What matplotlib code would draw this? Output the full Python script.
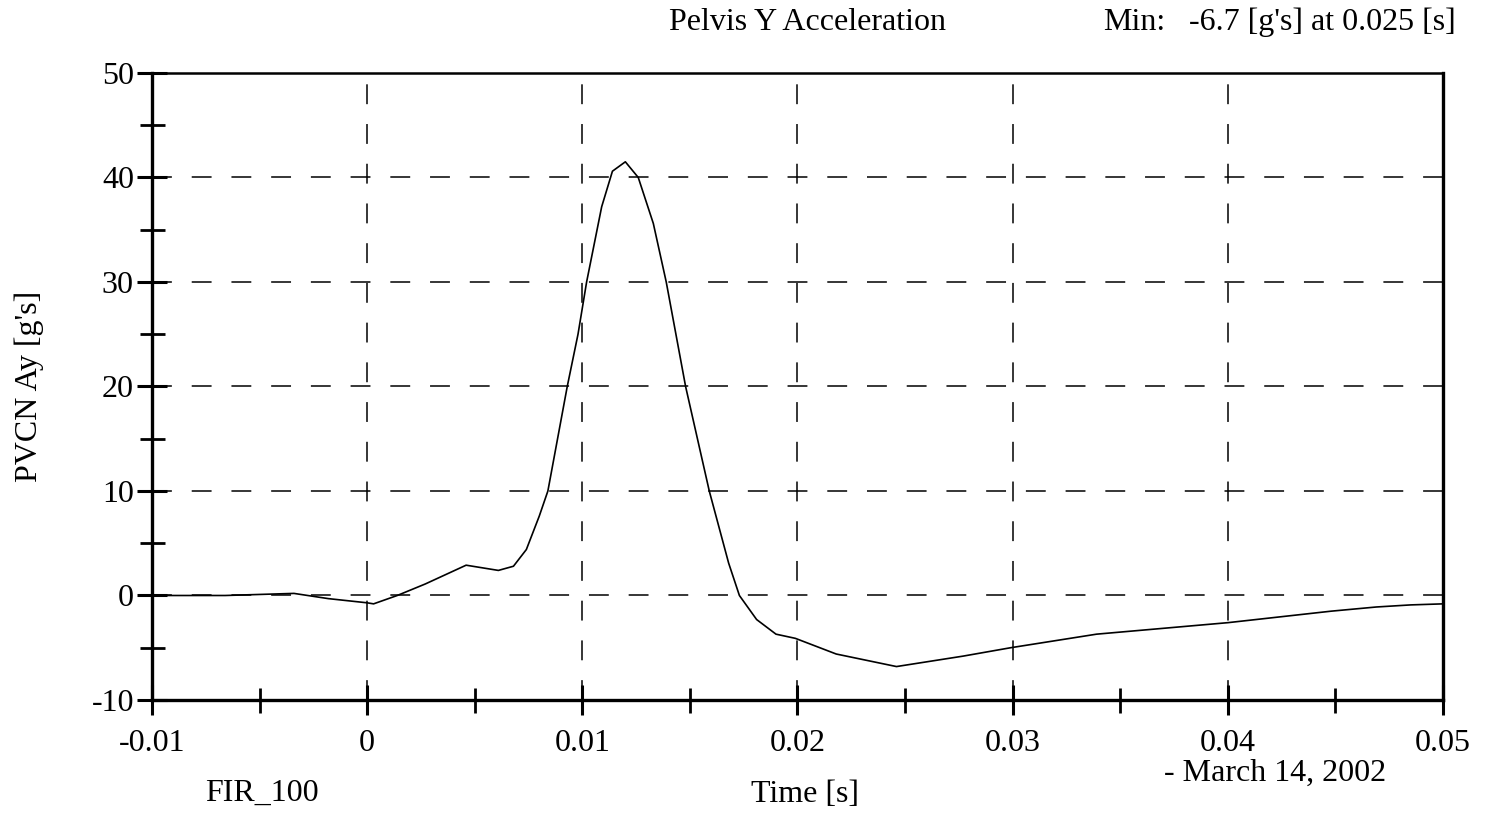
import numpy as np
from matplotlib import pyplot as plt
from matplotlib.ticker import MultipleLocator

plt.rcParams['font.family'] = ['Liberation Serif', 'DejaVu Serif']

# pelvis Y acceleration trace
time_s = [-0.0100, -0.0066, -0.0034, -0.0018, 0.0, 0.0003, 0.0014, 0.0027,
          0.0046, 0.0061, 0.0068, 0.0074, 0.0080, 0.0084, 0.0093, 0.0098,
          0.0102, 0.0109, 0.0114, 0.0120, 0.0126, 0.0133, 0.0139, 0.0148,
          0.0159, 0.0168, 0.0173, 0.0181, 0.0190, 0.0199, 0.0218, 0.0246,
          0.0277, 0.0299, 0.0339, 0.0400, 0.0448, 0.0469, 0.0485, 0.0500]
accel_g = [0.0, 0.0, 0.2, -0.3, -0.7, -0.8, 0.0, 1.1,
           2.9, 2.4, 2.8, 4.4, 7.6, 10.0, 20.0, 25.0,
           30.0, 37.2, 40.6, 41.5, 40.0, 35.6, 30.0, 20.0,
           10.0, 3.1, 0.0, -2.3, -3.7, -4.1, -5.6, -6.8,
           -5.8, -5.0, -3.7, -2.6, -1.5, -1.1, -0.9, -0.8]

x_ticks = [-0.01, 0.0, 0.01, 0.02, 0.03, 0.04, 0.05]
x_labels = ['-0.01', '0', '0.01', '0.02', '0.03', '0.04', '0.05']
y_ticks = [-10, 0, 10, 20, 30, 40, 50]
y_labels = ['-10', '0', '10', '20', '30', '40', '50']

fig = plt.figure(figsize=(14.94, 8.19), dpi=100)
ax = fig.add_axes([0.1017, 0.1453, 0.8642, 0.7656])

# dashed grid on interior major ticks
for xv in x_ticks[1:-1]:
    ax.axvline(xv, color='black', lw=1.1, ls=(0, (13, 13)), zorder=1)
for yv in y_ticks[1:-1]:
    ax.axhline(yv, color='black', lw=1.1, ls=(0, (13, 13)), zorder=1)

ax.plot(time_s, accel_g, color='black', lw=1.2, zorder=3)

ax.set_xlim(-0.01, 0.05)
ax.set_ylim(-10, 50)
ax.set_xticks(x_ticks)
ax.set_xticklabels(x_labels)
ax.set_yticks(y_ticks)
ax.set_yticklabels(y_labels)
ax.xaxis.set_minor_locator(MultipleLocator(0.005))
ax.yaxis.set_minor_locator(MultipleLocator(5))

ax.tick_params(which='major', direction='inout', length=22, width=2.2,
               labelsize=23, color='black')
ax.tick_params(which='minor', direction='inout', length=18, width=2.0)
ax.tick_params(axis='x', which='major', pad=10)
ax.tick_params(axis='y', which='major', pad=2)

for side in ['left', 'bottom', 'right']:
    ax.spines[side].set_linewidth(2.4)
ax.spines['top'].set_linewidth(1.8)

ax.set_ylabel("PVCN Ay [g's]", fontsize=23, labelpad=34)

fig.text(807 / 1494, 1 - 22 / 819, 'Pelvis Y Acceleration', fontsize=23,
         ha='center', va='center')
fig.text(1103 / 1494, 1 - 22 / 819, 'Min:', fontsize=23, ha='left', va='center')
fig.text(1456 / 1494, 1 - 22 / 819, "-6.7 [g's] at 0.025 [s]", fontsize=23,
         ha='right', va='center')
fig.text(262 / 1494, 1 - 793 / 819, 'FIR_100', fontsize=23, ha='center', va='center')
fig.text(805 / 1494, 1 - 795 / 819, 'Time [s]', fontsize=23, ha='center', va='center')
fig.text(1275 / 1494, 1 - 773 / 819, '- March 14, 2002', fontsize=23,
         ha='center', va='center')

fig.savefig('out.png', dpi=100)
